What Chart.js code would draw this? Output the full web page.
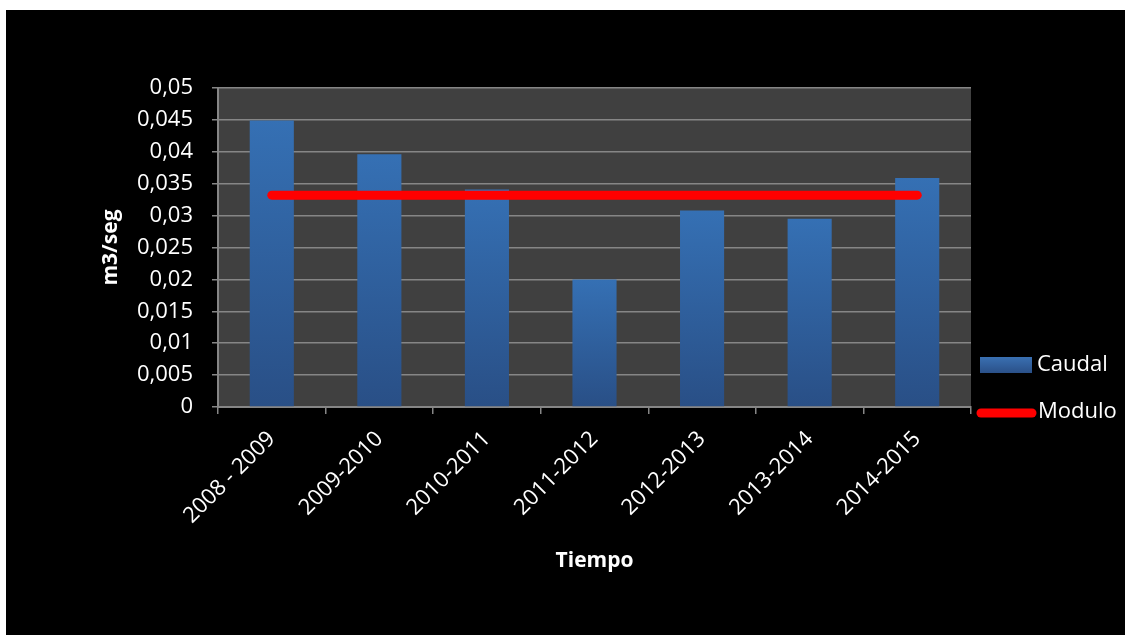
<!DOCTYPE html>
<html>
<head>
<meta charset="utf-8">
<script src="https://cdn.jsdelivr.net/npm/chart.js@4"></script>
<style>
  html, body { margin: 0; padding: 0; background: #fff; }
  #wrap { position: absolute; left: 6px; top: 10px; width: 1119px; height: 625px; background: #000; }
</style>
</head>
<body>
<div id="wrap"><canvas id="chart" width="1119" height="625"></canvas></div>
<script>
const categories = ["2008 - 2009", "2009-2010", "2010-2011", "2011-2012", "2012-2013", "2013-2014", "2014-2015"];
const caudal = [0.0449, 0.0396, 0.0341, 0.0200, 0.0308, 0.0295, 0.0359];
const modulo = [0.0332, 0.0332, 0.0332, 0.0332, 0.0332, 0.0332, 0.0332];

const FONT = "'Open Sans', 'DejaVu Sans', sans-serif";
const gridColor = "#868686";

// vertical blue gradient per bar, from its top down to the base
function barFill(ctx) {
    const chart = ctx.chart;
    const y = chart.scales.y;
    if (ctx.type !== "data" || !y) return "#3268a8";
    const top = y.getPixelForValue(ctx.raw);
    const base = y.getPixelForValue(0);
    if (!isFinite(top) || !isFinite(base) || top === base) return "#3268a8";
    const g = chart.ctx.createLinearGradient(0, top, 0, base);
    g.addColorStop(0, "#3570b4");
    g.addColorStop(1, "#294f86");
    return g;
}

const plotBackground = {
    id: "plotBackground",
    beforeDraw(chart) {
        const { ctx, chartArea: a } = chart;
        ctx.save();
        ctx.fillStyle = "#404040";
        ctx.fillRect(a.left, a.top, a.right - a.left, a.bottom - a.top);
        ctx.restore();
    }
};

// legend on the right, near the bottom of the plot
const sideLegend = {
    id: "sideLegend",
    afterDraw(chart) {
        const ctx = chart.ctx;
        const sets = chart.data.datasets;
        ctx.save();
        ctx.font = "22px " + FONT;
        ctx.textBaseline = "middle";

        const g = ctx.createLinearGradient(0, 347, 0, 363);
        g.addColorStop(0, "#3a70b2");
        g.addColorStop(1, "#2a5088");
        ctx.fillStyle = g;
        ctx.fillRect(974, 347, 52, 16);
        ctx.fillStyle = "#fff";
        ctx.fillText(sets[1].label, 1031, 355);

        ctx.strokeStyle = sets[0].borderColor;
        ctx.lineWidth = 9;
        ctx.lineCap = "round";
        ctx.beginPath();
        ctx.moveTo(975, 403);
        ctx.lineTo(1026, 403);
        ctx.stroke();
        ctx.fillText(sets[0].label, 1032, 402);
        ctx.restore();
    }
};

function fmt(v) {
    if (v === 0) return "0";
    return v.toFixed(3).replace(/0+$/, "").replace(".", ",");
}

new Chart(document.getElementById("chart").getContext("2d"), {
    type: "bar",
    data: {
        labels: categories,
        datasets: [
            {
                type: "line",
                label: "Modulo",
                data: modulo,
                borderColor: "#ff0000",
                borderWidth: 9,
                borderCapStyle: "round",
                pointRadius: 0,
                fill: false,
                order: 0
            },
            {
                type: "bar",
                label: "Caudal",
                data: caudal,
                backgroundColor: barFill,
                categoryPercentage: 1,
                barPercentage: 0.41,
                order: 1
            }
        ]
    },
    options: {
        responsive: false,
        animation: false,
        devicePixelRatio: 1,
        layout: { padding: { left: 0, top: 78, right: 154, bottom: 28 } },
        plugins: {
            legend: { display: false },
            tooltip: { enabled: false }
        },
        scales: {
            x: {
                offset: true,
                grid: {
                    offset: true,
                    drawOnChartArea: false,
                    drawTicks: true,
                    tickLength: 7,
                    color: gridColor,
                    lineWidth: 1.5
                },
                border: { color: gridColor, width: 2 },
                ticks: {
                    color: "#fff",
                    font: { family: FONT, size: 22 },
                    minRotation: 45,
                    maxRotation: 45,
                    padding: 12
                },
                title: {
                    display: true,
                    text: "Tiempo",
                    color: "#fff",
                    font: { family: FONT, size: 21, weight: "bold" },
                    padding: { top: 0, bottom: 33 }
                },
                afterFit(scale) { scale.height = 200; }
            },
            y: {
                min: 0,
                max: 0.05,
                grid: {
                    color: gridColor,
                    lineWidth: 1.5,
                    drawTicks: true,
                    tickLength: 6
                },
                border: { color: gridColor, width: 2 },
                ticks: {
                    stepSize: 0.005,
                    color: "#fff",
                    font: { family: FONT, size: 22 },
                    padding: 19,
                    callback: v => fmt(v)
                },
                title: {
                    display: true,
                    text: "m3/seg",
                    color: "#fff",
                    font: { family: FONT, size: 21, weight: "bold" },
                    padding: { top: 92, bottom: 0 }
                },
                afterFit(scale) { scale.width = 212; }
            }
        }
    },
    plugins: [plotBackground, sideLegend]
});
</script>
</body>
</html>
